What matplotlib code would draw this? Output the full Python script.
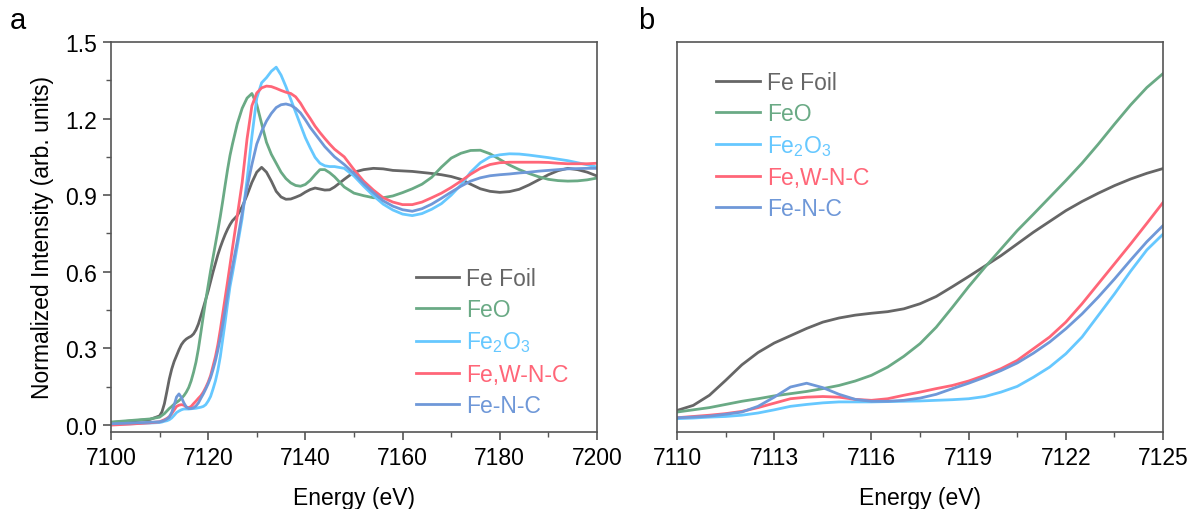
import numpy as np
import matplotlib
matplotlib.use("Agg")
import matplotlib.pyplot as plt
from matplotlib.ticker import MultipleLocator

plt.rcParams['font.family'] = ['Liberation Sans', 'DejaVu Sans']
plt.rcParams['mathtext.default'] = 'regular'

# energy grid (eV)
energy = [7100, 7104, 7108,
          7110, 7110.5, 7111, 7111.5, 7112, 7112.5, 7113, 7113.5, 7114, 7114.5,
          7115, 7115.5, 7116, 7116.5, 7117, 7117.5, 7118, 7118.5, 7119, 7119.5,
          7120, 7120.5, 7121, 7121.5, 7122, 7122.5, 7123, 7123.5, 7124, 7124.5, 7125,
          7126, 7127, 7128, 7129, 7130, 7131, 7132, 7133, 7134, 7135, 7136, 7137,
          7138, 7139, 7140, 7141, 7142, 7143, 7144, 7145, 7146, 7148, 7150, 7152,
          7154, 7156, 7158, 7160, 7162, 7164, 7166, 7168, 7170, 7172, 7174, 7176,
          7178, 7180, 7182, 7184, 7186, 7188, 7190, 7192, 7194, 7196, 7198, 7200]

fe_foil = [0.010, 0.016, 0.022,
           0.036, 0.052, 0.084, 0.131, 0.180, 0.219, 0.249, 0.272, 0.295, 0.315,
           0.328, 0.337, 0.343, 0.348, 0.357, 0.373, 0.396, 0.427, 0.459, 0.492,
           0.525, 0.562, 0.599, 0.633, 0.667, 0.696, 0.722, 0.746, 0.767, 0.785, 0.800,
           0.820, 0.855, 0.900, 0.950, 0.990, 1.009, 0.990, 0.955, 0.915, 0.893, 0.884, 0.885,
           0.892, 0.900, 0.912, 0.922, 0.928, 0.924, 0.920, 0.921, 0.932, 0.962, 0.990, 1.000,
           1.005, 1.003, 0.997, 0.995, 0.993, 0.989, 0.985, 0.980, 0.973, 0.962, 0.943, 0.925,
           0.915, 0.911, 0.914, 0.923, 0.940, 0.960, 0.980, 0.996, 1.005, 1.000, 0.990, 0.975]

feo = [0.012, 0.018, 0.024,
       0.031, 0.038, 0.045, 0.055, 0.065, 0.073, 0.082, 0.089, 0.096, 0.105,
       0.115, 0.129, 0.147, 0.173, 0.207, 0.247, 0.299, 0.362, 0.427, 0.488,
       0.546, 0.604, 0.656, 0.709, 0.762, 0.817, 0.877, 0.940, 1.001, 1.056, 1.100,
       1.180, 1.240, 1.280, 1.298, 1.255, 1.180, 1.107, 1.060, 1.025, 0.990, 0.965, 0.948,
       0.938, 0.935, 0.942, 0.958, 0.980, 1.000, 1.000, 0.988, 0.972, 0.932, 0.908, 0.898,
       0.890, 0.890, 0.897, 0.910, 0.925, 0.943, 0.970, 1.010, 1.045, 1.064, 1.075, 1.076,
       1.062, 1.040, 1.018, 1.000, 0.985, 0.972, 0.962, 0.957, 0.955, 0.956, 0.960, 0.967]

fe2o3 = [0.003, 0.005, 0.008,
         0.010, 0.012, 0.015, 0.017, 0.021, 0.028, 0.038, 0.049, 0.055, 0.060,
         0.063, 0.063, 0.063, 0.064, 0.065, 0.066, 0.068, 0.070, 0.073, 0.080,
         0.094, 0.112, 0.141, 0.173, 0.215, 0.268, 0.336, 0.404, 0.476, 0.543, 0.593,
         0.700, 0.810, 0.960, 1.130, 1.280, 1.340, 1.360, 1.385, 1.401, 1.370, 1.325, 1.275,
         1.225, 1.175, 1.125, 1.085, 1.048, 1.025, 1.015, 1.012, 1.012, 1.005, 0.975, 0.935,
         0.898, 0.865, 0.842, 0.826, 0.820, 0.828, 0.845, 0.867, 0.900, 0.940, 0.990, 1.027,
         1.050, 1.058, 1.062, 1.061, 1.057, 1.052, 1.047, 1.041, 1.035, 1.027, 1.019, 1.010]

few_nc = [0.000, 0.004, 0.009,
          0.013, 0.017, 0.021, 0.026, 0.033, 0.045, 0.059, 0.073, 0.078, 0.080,
          0.078, 0.071, 0.068, 0.073, 0.084, 0.094, 0.105, 0.115, 0.129, 0.147,
          0.168, 0.194, 0.231, 0.268, 0.315, 0.373, 0.436, 0.499, 0.562, 0.627, 0.693,
          0.820, 0.950, 1.120, 1.250, 1.300, 1.320, 1.327, 1.325, 1.318, 1.310, 1.303, 1.298,
          1.285, 1.260, 1.228, 1.200, 1.170, 1.145, 1.122, 1.100, 1.080, 1.050, 1.000, 0.955,
          0.920, 0.890, 0.873, 0.863, 0.863, 0.873, 0.890, 0.908, 0.930, 0.955, 0.982, 1.005,
          1.020, 1.027, 1.029, 1.029, 1.029, 1.029, 1.028, 1.025, 1.023, 1.023, 1.023, 1.025]

fe_nc = [0.005, 0.008, 0.011,
         0.013, 0.015, 0.018, 0.024, 0.031, 0.049, 0.078, 0.110, 0.122, 0.108,
         0.087, 0.071, 0.065, 0.065, 0.068, 0.075, 0.087, 0.105, 0.122, 0.141,
         0.162, 0.186, 0.217, 0.252, 0.294, 0.341, 0.394, 0.451, 0.511, 0.569, 0.620,
         0.720, 0.830, 0.930, 1.020, 1.100, 1.150, 1.190, 1.220, 1.243, 1.254, 1.257, 1.252,
         1.240, 1.222, 1.195, 1.165, 1.140, 1.115, 1.090, 1.070, 1.050, 1.020, 0.985, 0.945,
         0.910, 0.878, 0.857, 0.843, 0.837, 0.847, 0.865, 0.888, 0.912, 0.935, 0.955, 0.968,
         0.976, 0.980, 0.983, 0.987, 0.990, 0.994, 0.997, 1.000, 1.003, 1.004, 1.005, 1.005]

labels = ['Fe Foil', 'FeO', r'$\mathregular{Fe_2O_3}$', 'Fe,W-N-C', 'Fe-N-C']
colors = ['#666666', '#6aaa85', '#66c8ff', '#ff6678', '#6f98d8']
series = [fe_foil, feo, fe2o3, few_nc, fe_nc]

fig = plt.figure(figsize=(11.93, 5.10), dpi=100)
ax1 = fig.add_axes([0.093, 0.151, 0.4074, 0.7649])
ax2 = fig.add_axes([0.5675, 0.151, 0.4074, 0.7649])

for ax in (ax1, ax2):
    for s, c, l in zip(series, colors, labels):
        ax.plot(energy, s, color=c, lw=2.0, label=l)
    for sp in ax.spines.values():
        sp.set_color('#555555')
        sp.set_linewidth(1.2)
    ax.tick_params(which='both', direction='out', color='#555555', labelsize=16.5,
                   top=False, right=False)
    ax.tick_params(which='major', length=6, width=1.2, pad=4)
    ax.tick_params(which='minor', length=3.5, width=1.0)
    ax.set_xlabel('Energy (eV)', fontsize=16.5, labelpad=12)

ax1.set_xlim(7100, 7200)
ax1.set_ylim(-0.027, 1.5)
ax1.xaxis.set_major_locator(MultipleLocator(20))
ax1.xaxis.set_minor_locator(MultipleLocator(10))
ax1.yaxis.set_major_locator(MultipleLocator(0.3))
ax1.yaxis.set_minor_locator(MultipleLocator(0.15))
ax1.yaxis.set_major_formatter(plt.FuncFormatter(lambda v, p: f'{v:.1f}'))
ax1.set_ylabel('Normalized Intensity (arb. units)', fontsize=16.5, labelpad=8)

ax2.set_xlim(7110, 7125)
ax2.set_ylim(-0.032, 1.20)
ax2.xaxis.set_major_locator(MultipleLocator(3))
ax2.xaxis.set_minor_locator(MultipleLocator(1.5))
ax2.set_yticks([])

leg_kw = dict(frameon=False, fontsize=16.5, labelcolor='linecolor', handlelength=1.9,
              handletextpad=0.3, labelspacing=0.36, borderaxespad=0)
ax1.legend(loc='lower left', bbox_to_anchor=(0.608, 0.015), **leg_kw)
ax2.legend(loc='upper left', bbox_to_anchor=(0.062, 0.95), **leg_kw)

fig.text(0.008, 0.958, 'a', fontsize=21, va='center')
fig.text(0.535, 0.958, 'b', fontsize=21, va='center')

fig.savefig('out.png', dpi=100)
